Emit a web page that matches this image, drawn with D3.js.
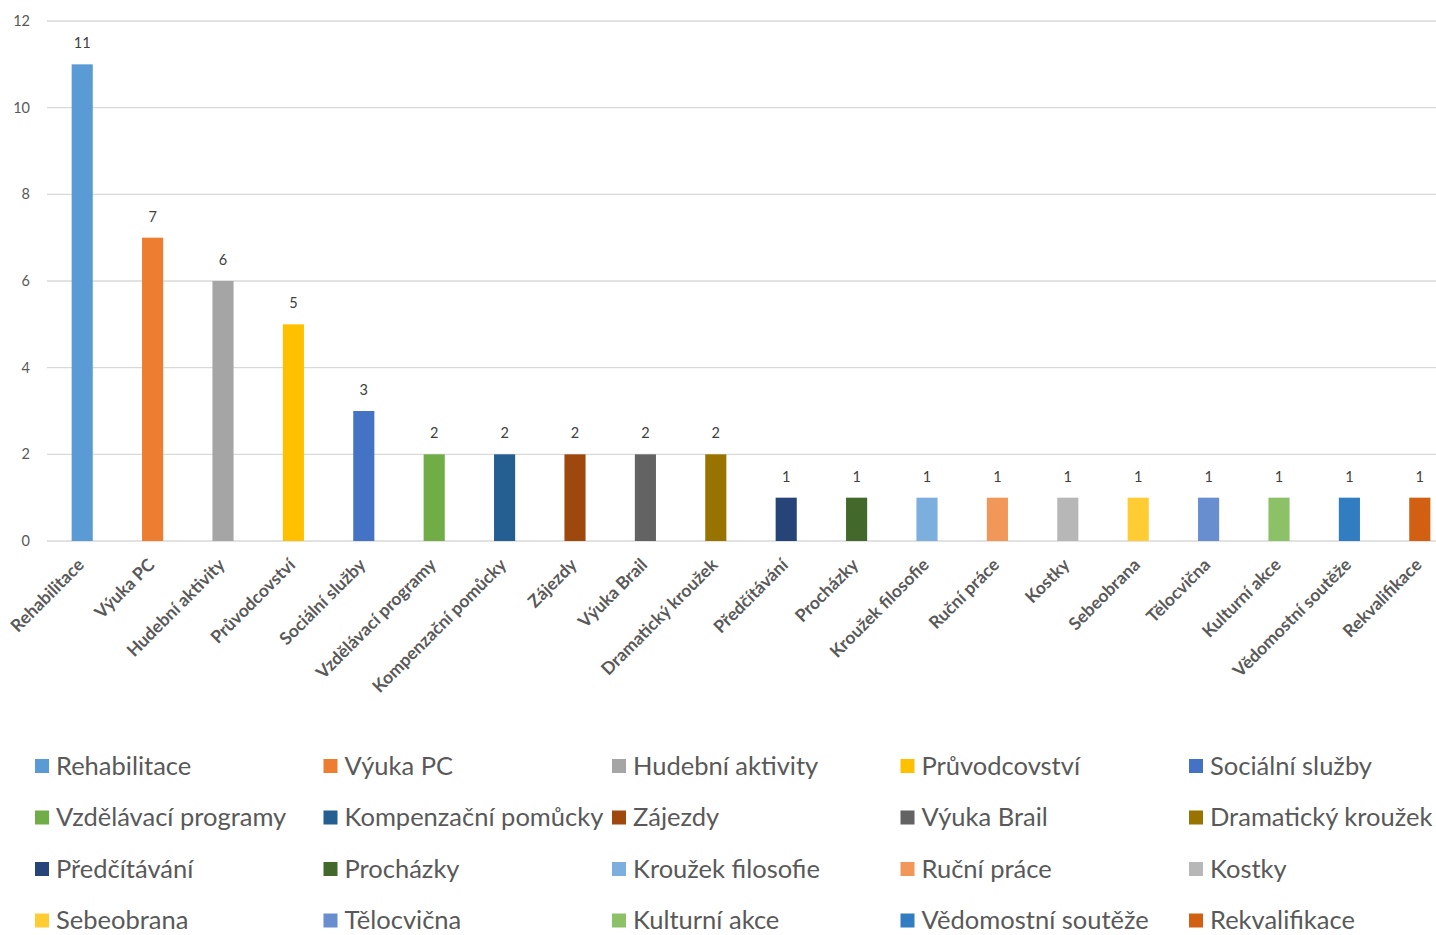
<!DOCTYPE html>
<html><head><meta charset="utf-8">
<script src="https://cdn.jsdelivr.net/npm/d3@7/dist/d3.min.js"></script>
<style>body{margin:0;background:#fff;overflow:hidden}svg{display:block}</style>
</head><body>
<script>
const categories = ["Rehabilitace","Výuka PC","Hudební aktivity","Průvodcovství","Sociální služby","Vzdělávací programy","Kompenzační pomůcky","Zájezdy","Výuka Brail","Dramatický kroužek","Předčítávání","Procházky","Kroužek filosofie","Ruční práce","Kostky","Sebeobrana","Tělocvična","Kulturní akce","Vědomostní soutěže","Rekvalifikace"];
const values = [11,7,6,5,3,2,2,2,2,2,1,1,1,1,1,1,1,1,1,1];
const colors = ["#5B9BD5","#ED7D31","#A5A5A5","#FFC000","#4472C4","#70AD47","#255E91","#9E480E","#636363","#997300","#264478","#43682B","#7CAFDD","#F1975A","#B7B7B7","#FFCD33","#698ED0","#8CC168","#327DC2","#D26012"];
const yTicks = [0,2,4,6,8,10,12];

const W = 1436, H = 935;
const svg = d3.select("body").append("svg").attr("width", W).attr("height", H);
const x = d3.scaleBand().domain(categories).range([47, 1455]).paddingInner(0.7).paddingOuter(0.35);
const y = d3.scaleLinear().domain([0, 12]).range([541, 21]);

// gridlines
svg.append("g").selectAll("line").data(yTicks).join("line")
  .attr("x1", 47).attr("x2", 1455)
  .attr("y1", d => y(d)).attr("y2", d => y(d))
  .attr("stroke", "#D9D9D9").attr("stroke-width", 1.3);

// y axis labels
const yAxis = d3.axisLeft(y).tickValues(yTicks).tickSize(0).tickPadding(0);
const ya = svg.append("g").attr("transform", "translate(30,0)").call(yAxis);
ya.select(".domain").remove();
ya.selectAll("text").attr("font-family", "Lato, sans-serif").attr("font-size", 14.5).attr("fill", "#595959");

// bars
svg.append("g").selectAll("rect").data(values).join("rect")
  .attr("x", (d, i) => x(categories[i]))
  .attr("width", x.bandwidth())
  .attr("y", d => y(d))
  .attr("height", d => y(0) - y(d))
  .attr("fill", (d, i) => colors[i]);

// value labels
svg.append("g").selectAll("text").data(values).join("text")
  .attr("x", (d, i) => x(categories[i]) + x.bandwidth() / 2)
  .attr("y", d => y(d) - 16)
  .attr("text-anchor", "middle")
  .attr("font-family", "Lato, sans-serif").attr("font-size", 14.5).attr("fill", "#404040")
  .text(d => d);

// x axis labels
const xAxis = d3.axisBottom(x).tickSize(0).tickPadding(0);
const xa = svg.append("g").attr("transform", "translate(0,541)").call(xAxis);
xa.select(".domain").remove();
xa.selectAll("text")
  .attr("font-family", "Lato, sans-serif").attr("font-size", 17.5).attr("font-weight", "bold").attr("fill", "#595959")
  .attr("text-anchor", "end").attr("dy", null).attr("y", 0)
  .attr("transform", "translate(3,25) rotate(-45)");

// legend
const lg = svg.append("g");
const items = lg.selectAll("g").data(categories).join("g")
  .attr("transform", (d, i) => `translate(${35 + (i % 5) * 288.5},${766 + Math.floor(i / 5) * 51.5})`);
items.append("rect").attr("x", 0).attr("y", -7).attr("width", 14).attr("height", 14)
  .attr("fill", (d, i) => colors[i]);
items.append("text").attr("x", 21).attr("y", 0).attr("dy", "0.35em")
  .attr("font-family", "Lato, sans-serif").attr("font-size", 25.5).attr("fill", "#595959")
  .text(d => d);
</script>
</body></html>
